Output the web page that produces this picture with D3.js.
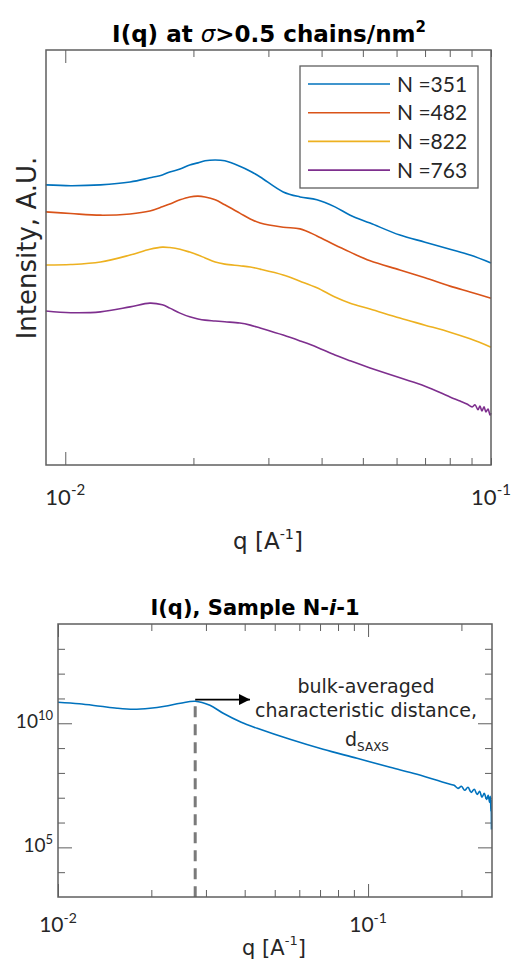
<!DOCTYPE html>
<html><head><meta charset="utf-8">
<script src="https://cdn.jsdelivr.net/npm/d3@7"></script>
<style>body{margin:0;background:#fff} svg{display:block}</style>
</head><body>
<svg id="c" width="511" height="963"></svg>
<script>
// ---------- DATA: top panel (arbitrary intensity units) ----------
const qTop = [0.009, 0.0103, 0.0121, 0.0142, 0.0158, 0.0169, 0.0176, 0.0186, 0.0196, 0.0205, 0.0213, 0.0225, 0.0237, 0.0257, 0.0272, 0.0287, 0.0325, 0.0356, 0.039, 0.043, 0.0467, 0.052, 0.0611, 0.07, 0.0801, 0.0893, 0.1];
const vN351 = [67.5, 67.3, 67.5, 68.2, 69.2, 69.9, 70.6, 71.3, 72.3, 72.8, 73.3, 73.5, 73.3, 72.0, 70.8, 69.4, 65.8, 64.6, 63.9, 62.2, 60.2, 58.3, 55.4, 53.7, 52.0, 50.6, 48.7];
const vN482 = [61.0, 60.6, 60.2, 60.5, 61.2, 62.2, 62.9, 63.9, 64.6, 64.8, 64.6, 63.9, 62.7, 60.7, 59.3, 58.3, 57.3, 56.9, 55.2, 53.0, 51.3, 49.2, 47.0, 45.1, 43.1, 41.7, 40.2];
const vN822 = [48.2, 48.3, 48.9, 50.6, 52.0, 52.5, 52.4, 52.0, 51.3, 50.6, 49.9, 48.9, 48.4, 48.0, 47.7, 47.2, 45.8, 44.3, 42.7, 40.5, 39.0, 37.6, 35.4, 33.7, 32.0, 30.4, 28.4];
const qN763 = [0.009, 0.0103, 0.0121, 0.0142, 0.0158, 0.0169, 0.0176, 0.0186, 0.0196, 0.0205, 0.0213, 0.0225, 0.0237, 0.0257, 0.0272, 0.0287, 0.0325, 0.0356, 0.039, 0.043, 0.0467, 0.052, 0.0611, 0.07, 0.0801, 0.0846, 0.0878, 0.0903, 0.0917, 0.0932, 0.0942, 0.0952, 0.0963, 0.0973, 0.0984, 0.0995, 0.1];
const vN763 = [37.1, 36.7, 36.9, 38.1, 39.0, 38.6, 37.8, 36.6, 35.7, 35.2, 34.9, 34.7, 34.5, 34.2, 33.7, 33.0, 31.3, 29.9, 28.4, 26.5, 25.1, 23.4, 21.0, 19.0, 16.4, 15.4, 14.7, 14.0, 14.5, 13.3, 14.2, 13.0, 14.0, 12.8, 13.5, 12.0, 12.5];
const legendLabels = ["N =351", "N =482", "N =822", "N =763"];
const seriesColors = ["#0072BD", "#D95319", "#EDB120", "#7E2F8E"];
const xTopTicksMajor = [0.01];
const xTopTicksMinor = [0.02, 0.03, 0.04, 0.05, 0.06, 0.07, 0.08, 0.09, 0.1];

// ---------- DATA: bottom panel ----------
const qS = [0.01, 0.0117, 0.0137, 0.0155, 0.0175, 0.0198, 0.0221, 0.0248, 0.0277, 0.0309, 0.0341, 0.039, 0.0439, 0.056, 0.0716, 0.0921, 0.1178, 0.1439, 0.1839, 0.1894, 0.195, 0.2, 0.205, 0.21, 0.215, 0.22, 0.2248, 0.229, 0.233, 0.237, 0.241, 0.244, 0.2465, 0.248, 0.249, 0.2495, 0.25];
const iS = [7.0e10, 6.1e10, 4.84e10, 4.03e10, 3.67e10, 4.03e10, 4.84e10, 6.4e10, 7.7e10, 5.3e10, 2.53e10, 1.1e10, 6.3e9, 2.26e9, 8.95e8, 3.88e8, 1.68e8, 8.8e7, 3.47e7, 3.16e7, 2.39e7, 2.88e7, 1.99e7, 2.63e7, 1.65e7, 2.18e7, 1.37e7, 1.81e7, 1.04e7, 1.5e7, 8.6e6, 1.25e7, 6.5e6, 1.14e7, 2.8e6, 8.6e6, 5.3e5];
const dSaxsQ = 0.0277;
const dSaxsTopI = 4.8e10;
const arrowQ = [0.0277, 0.0416];
const arrowI = 9.0e10;
const xBotTicksMajor = [0.01, 0.1];
const xBotTicksMinor = [0.02, 0.03, 0.04, 0.05, 0.06, 0.07, 0.08, 0.09, 0.2];
const yBotTicksMajor = [1e5, 1e10];
const yBotTicksMinor = [1e4, 1e6, 1e7, 1e8, 1e9, 1e11, 1e12, 1e13];
const annotationLines = ["bulk-averaged", "characteristic distance,"];

// ---------- DRAW ----------
const svg = d3.select("#c");
const AX = "#5f5f5f";
const TXT = "#262626";
const F = "'DejaVu Sans', sans-serif";
const FL = "Lato, sans-serif";

function styleAxis(g) {
  g.select(".domain").remove();
  g.selectAll(".tick line").attr("stroke", AX).attr("stroke-width", 1);
  g.selectAll(".tick text").remove();
}

// ===== TOP PANEL =====
const T = {l: 46, r: 491, t: 50, b: 465};
const xT = d3.scaleLog().domain([0.00901, 0.1]).range([T.l, T.r]);
const yT = d3.scaleLinear().domain([0, 100]).range([T.b, T.t]);

svg.append("g").attr("transform", `translate(0,${T.b})`)
  .call(d3.axisBottom(xT).tickValues(xTopTicksMajor).tickSize(-13)).call(styleAxis);
svg.append("g").attr("transform", `translate(0,${T.b})`)
  .call(d3.axisBottom(xT).tickValues(xTopTicksMinor).tickSize(-7)).call(styleAxis);
svg.append("g").attr("transform", `translate(0,${T.t})`)
  .call(d3.axisTop(xT).tickValues(xTopTicksMajor).tickSize(-13)).call(styleAxis);
svg.append("g").attr("transform", `translate(0,${T.t})`)
  .call(d3.axisTop(xT).tickValues(xTopTicksMinor).tickSize(-7)).call(styleAxis);

const lineT = d3.line().x(d => xT(d[0])).y(d => yT(d[1])).curve(d3.curveCatmullRom.alpha(0.5));
const topSeries = [
  {q: qTop, v: vN351}, {q: qTop, v: vN482}, {q: qTop, v: vN822}, {q: qN763, v: vN763}
];
topSeries.forEach((s, i) => {
  svg.append("path").datum(s.q.map((q, k) => [q, s.v[k]]))
    .attr("d", lineT).attr("fill", "none").attr("stroke", seriesColors[i]).attr("stroke-width", 1.6);
});

svg.append("rect").attr("x", T.l).attr("y", T.t).attr("width", T.r - T.l).attr("height", T.b - T.t)
  .attr("fill", "none").attr("stroke", AX).attr("stroke-width", 1.5);

// legend
const lg = svg.append("g");
lg.append("rect").attr("x", 300).attr("y", 66).attr("width", 178).attr("height", 122)
  .attr("fill", "#fff").attr("stroke", AX).attr("stroke-width", 1.3);
legendLabels.forEach((lab, i) => {
  const yy = 84 + i * 28.7;
  lg.append("line").attr("x1", 308).attr("x2", 390).attr("y1", yy).attr("y2", yy)
    .attr("stroke", seriesColors[i]).attr("stroke-width", 1.6);
  lg.append("text").attr("x", 397).attr("y", yy + 7.5).attr("font-family", FL).attr("font-size", 21)
    .attr("fill", TXT).text(lab);
});

// title
const t1 = svg.append("text").attr("x", 269).attr("y", 42).attr("text-anchor", "middle")
  .attr("font-family", F).attr("font-size", 23).attr("font-weight", "bold").attr("fill", "#000");
t1.append("tspan").text("I(q) at ");
t1.append("tspan").attr("font-weight", "normal").attr("font-style", "italic").text("σ");
t1.append("tspan").text(">0.5 chains/nm");
t1.append("tspan").attr("dy", -10).attr("font-size", 15).text("2");

// y label
svg.append("text").attr("transform", "translate(36,248) rotate(-90)").attr("text-anchor", "middle")
  .attr("font-family", F).attr("font-size", 26).attr("fill", TXT).text("Intensity, A.U.");

// tick label helper
function powLabel(x, y, exp, size, supSize, supDy, anchor) {
  const t = svg.append("text").attr("x", x).attr("y", y).attr("text-anchor", anchor || "middle")
    .attr("font-family", FL).attr("font-size", size).attr("fill", TXT);
  t.append("tspan").text("10");
  t.append("tspan").attr("dy", supDy).attr("font-size", supSize).text(exp);
  return t;
}
xTopTicksMajor.concat([0.1]).forEach(q => {
  powLabel(xT(q), 505, "-" + String(-Math.round(Math.log10(q))), 22, 15, -10);
});

// x label helper
function qLabel(x, y, size) {
  const t = svg.append("text").attr("x", x).attr("y", y).attr("text-anchor", "middle")
    .attr("font-family", F).attr("font-size", size).attr("fill", TXT);
  t.append("tspan").text("q [A");
  t.append("tspan").attr("dy", -10).attr("font-size", size * 0.62).text("-1");
  t.append("tspan").attr("dy", 10).text("]");
}
qLabel(268, 549, 23);

// ===== BOTTOM PANEL =====
const B = {l: 58, r: 492, t: 624, b: 897};
const xB = d3.scaleLog().domain([0.01, 0.251]).range([B.l, B.r]);
const yB = d3.scaleLog().domain([1e3, 1e14]).range([B.b, B.t]);

svg.append("g").attr("transform", `translate(0,${B.b})`)
  .call(d3.axisBottom(xB).tickValues(xBotTicksMajor).tickSize(-13)).call(styleAxis);
svg.append("g").attr("transform", `translate(0,${B.b})`)
  .call(d3.axisBottom(xB).tickValues(xBotTicksMinor).tickSize(-7)).call(styleAxis);
svg.append("g").attr("transform", `translate(0,${B.t})`)
  .call(d3.axisTop(xB).tickValues(xBotTicksMajor).tickSize(-13)).call(styleAxis);
svg.append("g").attr("transform", `translate(0,${B.t})`)
  .call(d3.axisTop(xB).tickValues(xBotTicksMinor).tickSize(-7)).call(styleAxis);
svg.append("g").attr("transform", `translate(${B.l},0)`)
  .call(d3.axisLeft(yB).tickValues(yBotTicksMajor).tickSize(-14)).call(styleAxis);
svg.append("g").attr("transform", `translate(${B.l},0)`)
  .call(d3.axisLeft(yB).tickValues(yBotTicksMinor).tickSize(-7)).call(styleAxis);
svg.append("g").attr("transform", `translate(${B.r},0)`)
  .call(d3.axisRight(yB).tickValues(yBotTicksMajor).tickSize(-14)).call(styleAxis);
svg.append("g").attr("transform", `translate(${B.r},0)`)
  .call(d3.axisRight(yB).tickValues(yBotTicksMinor).tickSize(-7)).call(styleAxis);

// dashed line
svg.append("line").attr("x1", xB(dSaxsQ)).attr("x2", xB(dSaxsQ)).attr("y1", yB(dSaxsTopI)).attr("y2", B.b)
  .attr("stroke", "#7a7a7a").attr("stroke-width", 3).attr("stroke-dasharray", "11,7");

const lineB = d3.line().x(d => xB(d[0])).y(d => yB(d[1])).curve(d3.curveCatmullRom.alpha(0.5));
svg.append("path").datum(qS.map((q, k) => [q, iS[k]]))
  .attr("d", lineB).attr("fill", "none").attr("stroke", seriesColors[0]).attr("stroke-width", 1.6);

svg.append("rect").attr("x", B.l).attr("y", B.t).attr("width", B.r - B.l).attr("height", B.b - B.t)
  .attr("fill", "none").attr("stroke", AX).attr("stroke-width", 1.5);

// arrow
svg.append("defs").append("marker").attr("id", "ah").attr("viewBox", "0 0 10 10")
  .attr("refX", 10).attr("refY", 5).attr("markerWidth", 11).attr("markerHeight", 11)
  .attr("markerUnits", "userSpaceOnUse").attr("orient", "auto")
  .append("path").attr("d", "M0,0 L10,5 L0,10 Z").attr("fill", "#000");
svg.append("line").attr("x1", xB(arrowQ[0])).attr("x2", xB(arrowQ[1]))
  .attr("y1", yB(arrowI)).attr("y2", yB(arrowI))
  .attr("stroke", "#000").attr("stroke-width", 1.8).attr("marker-end", "url(#ah)");

// annotation text
annotationLines.forEach((s, i) => {
  svg.append("text").attr("x", 366).attr("y", 693 + i * 24).attr("text-anchor", "middle")
    .attr("font-family", F).attr("font-size", 19).attr("fill", TXT).text(s);
});
const dt = svg.append("text").attr("x", 367).attr("y", 746).attr("text-anchor", "middle")
  .attr("font-family", F).attr("font-size", 19).attr("fill", TXT);
dt.append("tspan").text("d");
dt.append("tspan").attr("dy", 5).attr("font-size", 12).text("SAXS");

// title
const t2 = svg.append("text").attr("x", 255).attr("y", 615).attr("text-anchor", "middle")
  .attr("font-family", F).attr("font-size", 21).attr("font-weight", "bold").attr("fill", "#000");
t2.append("tspan").text("I(q), Sample N-");
t2.append("tspan").attr("font-style", "italic").text("i");
t2.append("tspan").text("-1");

// y tick labels
yBotTicksMajor.forEach(v => {
  powLabel(B.l - 5, yB(v) + 5, String(Math.round(Math.log10(v))), 19, 13, -8, "end");
});
// x tick labels
xBotTicksMajor.forEach(q => {
  powLabel(xB(q), 932, "-" + String(-Math.round(Math.log10(q))), 21, 14, -9);
});
qLabel(274, 955, 21);
</script>
</body></html>
